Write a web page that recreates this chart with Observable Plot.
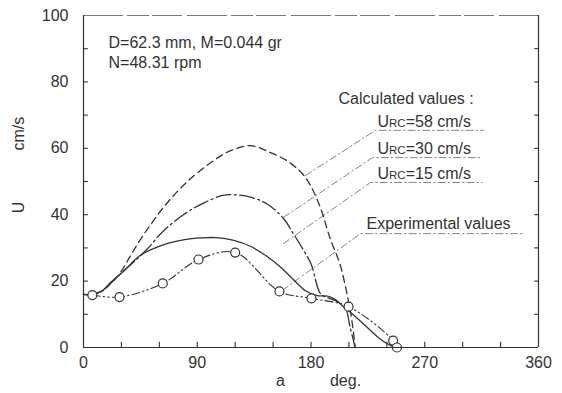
<!DOCTYPE html>
<html>
<head>
<meta charset="utf-8">
<script src="https://cdn.jsdelivr.net/npm/d3@7"></script>
<script src="https://cdn.jsdelivr.net/npm/@observablehq/plot@0.6"></script>
<style>
  html, body { margin: 0; padding: 0; background: #fff; }
  #chart { position: relative; width: 562px; height: 393px; }
  #chart svg { display: block; }
  #chart svg.overlay { position: absolute; left: 0; top: 0; pointer-events: none; }
</style>
</head>
<body>
<div id="chart"></div>
<script>
// ---- data ----
const xLabelTicks = [0, 90, 180, 270, 360];
const xMinorTicks = [30, 60, 90, 120, 150, 180, 210, 240, 270, 300, 330];
const yLabelTicks = [0, 20, 40, 60, 80, 100];
const yMinorTicks = [10, 20, 30, 40, 50, 60, 70, 80, 90];

// calculated curve, URC = 58 cm/s (dashed)
const urc58X = [0, 7, 15, 22, 29, 37, 45, 55, 65, 80, 100, 116, 132, 148, 162, 173, 180, 188, 195, 203, 208, 212, 215];
const urc58Y = [16, 16, 17.2, 19.5, 22.5, 27.5, 32.5, 38, 43, 49.2, 55.5, 59.2, 60.8, 58.7, 56, 52.4, 48.5, 41.5, 33, 25, 17, 9, 0];

// calculated curve, URC = 30 cm/s (dash-dot)
const urc30X = [0, 7, 15, 22, 30, 40, 50, 63, 79, 95, 110, 120, 132, 145, 158, 166, 173, 180, 187.5, 193, 200, 207, 211, 215];
const urc30Y = [16, 16, 17.1, 19.5, 22.5, 25.8, 29.5, 35, 40, 43.5, 45.8, 46, 45.3, 43.3, 39, 34.3, 30, 25.2, 16.2, 15, 14, 12, 6, 0];

// calculated curve, URC = 15 cm/s (solid)
const urc15X = [0, 7, 14, 22, 32, 45, 66, 80, 93, 105, 119, 132, 145, 156, 166, 176, 185, 193, 199, 205, 212, 219, 228, 236, 246];
const urc15Y = [16, 16, 16.8, 19.8, 23, 27.8, 31.3, 32.5, 33, 33.1, 32.3, 30.5, 27.5, 24.2, 20.5, 17, 15.6, 15.5, 14.5, 12.5, 10.3, 8, 4.8, 2.2, 0];

// experimental values (circles, dash-dot-dot)
const expX = [7, 28.5, 62.7, 91, 120, 155, 180.4, 209.7, 245, 248];
const expY = [15.8, 15.2, 19.3, 26.5, 28.6, 16.9, 14.8, 12.3, 2.1, 0];

// annotation texts
const noteText = ["D=62.3 mm, M=0.044 gr", "N=48.31 rpm"];
const noteX = [19.8, 19.8];
const noteY = [91.9, 85.8];

const legendText = ["Calculated values :", "URC=58 cm/s", "URC=30 cm/s", "URC=15 cm/s", "Experimental values"];
const legendX = [201.8, 232.6, 232.6, 232.6, 223.9];
const legendY = [75.0, 68.1, 59.9, 52.4, 37.3];

// leader lines (curve point -> start of underline -> end of underline)
const leaderSeries = ["58", "58", "58", "30", "30", "30", "15", "15", "15", "exp", "exp", "exp"];
const leaderX = [175.6, 231.0, 316.5, 158.2, 228.7, 315.7, 158.2, 227.1, 315.7, 157.4, 219.2, 348.1];
const leaderY = [51.8, 65.4, 65.4, 39.2, 57.2, 57.2, 31.3, 49.7, 49.7, 17.2, 34.3, 34.3];

const yTitleText = ["U", "cm/s"];
const yTitlePos = [40.4, 59.3];
const xTitleText = ["a", "deg."];
const xTitlePos = [155.9, 207.3];

// ---- build tables ----
const toPts = (xs, ys) => xs.map((x, i) => ({x, y: ys[i]}));
const c58 = toPts(urc58X, urc58Y);
const c30 = toPts(urc30X, urc30Y);
const c15 = toPts(urc15X, urc15Y);
const expPts = toPts(expX, expY);
const notes = noteText.map((t, i) => ({t, x: noteX[i], y: noteY[i]}));
const legendRows = legendText.map((t, i) => ({t, x: legendX[i], y: legendY[i]}));
const leaders = leaderSeries.map((s, i) => ({s, x: leaderX[i], y: leaderY[i]}));
const yTitles = yTitleText.map((t, i) => ({t, y: yTitlePos[i]}));
const xTitles = xTitleText.map((t, i) => ({t, x: xTitlePos[i]}));

const ink = "#333";
const font = "'Liberation Sans', Arial, sans-serif";
const xMin = 0, xMax = 360, yMin = 0, yMax = 100;
const tickLenX = 1.7;   // inward tick length along y (data units)
const tickLenY = 3.4;   // inward tick length along x (data units)

const layout = {
  width: 562,
  height: 393,
  marginLeft: 83,
  marginRight: 24,
  marginTop: 15,
  marginBottom: 46,
  x: {domain: [xMin, xMax], axis: null},
  y: {domain: [yMin, yMax], axis: null}
};

const tickMarks = [
  ...xMinorTicks.map(v => ({x1: v, x2: v, y1: yMin, y2: yMin + tickLenX})),
  ...yMinorTicks.map(v => ({x1: xMin, x2: xMin + tickLenY, y1: v, y2: v})),
  ...yMinorTicks.map(v => ({x1: xMax - tickLenY, x2: xMax, y1: v, y2: v}))
];

// main chart: labels, curves, points, annotations
const chart = Plot.plot({
  ...layout,
  style: {fontFamily: font, fontSize: "16px", color: ink, background: "#fff"},
  marks: [
    Plot.axisX({anchor: "bottom", ticks: xLabelTicks, tickSize: 0, tickPadding: 9, fontSize: 16, label: null, fill: ink}),
    Plot.axisY({anchor: "left", ticks: yLabelTicks, tickSize: 0, tickPadding: 15, fontSize: 16, label: null, fill: ink}),
    Plot.text(yTitles, {y: "y", text: "t", frameAnchor: "left", dx: -65, rotate: -90, fontSize: 16, fill: ink}),
    Plot.text(xTitles, {x: "x", text: "t", frameAnchor: "bottom", dy: 38, fontSize: 16, fill: ink}),
    Plot.line(leaders, {x: "x", y: "y", z: "s", stroke: "#777", strokeWidth: 0.9, strokeDasharray: "7,3,1.5,3"}),
    Plot.line(c58, {x: "x", y: "y", curve: "catmull-rom", stroke: ink, strokeWidth: 1.3, strokeDasharray: "7,4.5"}),
    Plot.line(c30, {x: "x", y: "y", curve: "catmull-rom", stroke: ink, strokeWidth: 1.3, strokeDasharray: "15,3.5,2,3.5"}),
    Plot.line(c15, {x: "x", y: "y", curve: "catmull-rom", stroke: ink, strokeWidth: 1.3}),
    Plot.line(expPts, {x: "x", y: "y", curve: "catmull-rom", stroke: ink, strokeWidth: 1.1, strokeDasharray: "8,3,1.5,3,1.5,3"}),
    Plot.dot(expPts, {x: "x", y: "y", r: 4.5, fill: "#fff", stroke: ink, strokeWidth: 1.2}),
    Plot.text(notes, {x: "x", y: "y", text: "t", textAnchor: "start", fontSize: 16, fill: ink}),
    Plot.text(legendRows, {x: "x", y: "y", text: "t", textAnchor: "start", fontSize: 16, fill: ink})
  ]
});

// render the "RC" of URC as small capitals
chart.querySelectorAll("text").forEach(el => {
  const s = el.textContent;
  if (/^URC=/.test(s)) {
    const ns = "http://www.w3.org/2000/svg";
    while (el.firstChild) el.removeChild(el.firstChild);
    const a = document.createElementNS(ns, "tspan"); a.textContent = "U";
    const b = document.createElementNS(ns, "tspan"); b.textContent = "RC"; b.setAttribute("font-size", "11.5");
    const c = document.createElementNS(ns, "tspan"); c.textContent = s.slice(3);
    el.append(a, b, c);
  }
});

// frame and inward ticks, same scales, layered on top
const frameLayer = Plot.plot({
  ...layout,
  style: {background: "transparent"},
  marks: [
    Plot.ruleY([yMax], {stroke: "#777", strokeWidth: 1, strokeDasharray: "40,4,22,3,30,5"}),
    Plot.ruleX([xMin, xMax], {stroke: ink, strokeWidth: 1.2}),
    Plot.ruleY([yMin], {stroke: ink, strokeWidth: 1.2}),
    Plot.link(tickMarks, {x1: "x1", x2: "x2", y1: "y1", y2: "y2", stroke: ink, strokeWidth: 1.1})
  ]
});
frameLayer.classList.add("overlay");

const host = document.getElementById("chart");
host.append(chart);
host.append(frameLayer);
</script>
</body>
</html>
